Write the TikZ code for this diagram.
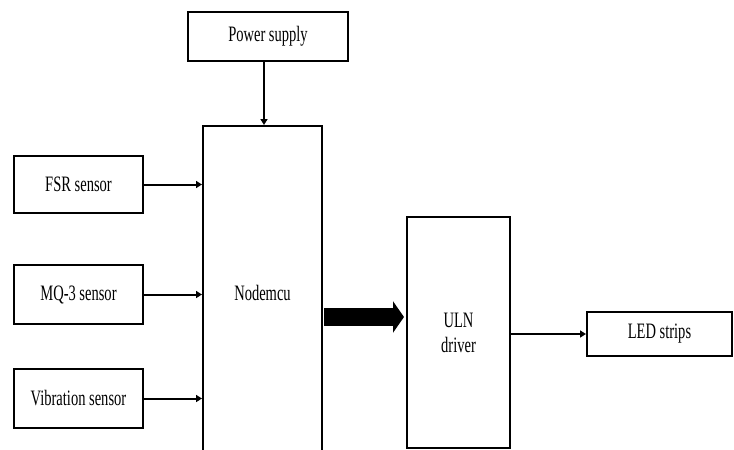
\documentclass[tikz,border=0pt]{standalone}
\usepackage{fontspec}
\setmainfont{Liberation Serif}[FakeStretch=0.66]
\usetikzlibrary{arrows.meta,calc}
\begin{document}
\begin{tikzpicture}[x=1pt,y=-1pt,
  blk/.style={draw=black,line width=2pt,inner sep=0pt,align=center,
    font=\fontsize{22}{25}\selectfont},
  conn/.style={line width=2pt,-{Triangle[length=6pt,width=7pt]}},
  bigarrow/.style={line width=18pt,-{Triangle[length=11pt,width=31pt]}}]
\useasboundingbox (0,0) rectangle (734,450);
\clip (0,0) rectangle (734,450);
\fill[white] (0,0) rectangle (734,450);
\node[blk,minimum width=160pt,minimum height=49pt] (power) at (268,36.5) {Power supply};
\node[blk,minimum width=119pt,minimum height=334pt] (nodemcu) at (262.5,293) {Nodemcu};
\node[blk,minimum width=129pt,minimum height=57pt] (fsr) at (78.5,184.5) {FSR sensor};
\node[blk,minimum width=129pt,minimum height=59pt] (mq) at (78.5,294.5) {MQ-3 sensor};
\node[blk,minimum width=129pt,minimum height=59pt] (vib) at (78.5,398.5) {Vibration sensor};
\node[blk,minimum width=103pt,minimum height=231pt] (uln) at (458.5,332.5) {ULN\\driver};
\node[blk,minimum width=145pt,minimum height=44pt] (led) at (659.5,334) {LED strips};
\coordinate (ps) at ([xshift=-4pt]power.south);
\draw[conn] (ps) -- (ps |- nodemcu.north);
\draw[conn] (fsr.east) -- (fsr.east -| nodemcu.west);
\draw[conn] (mq.east) -- (mq.east -| nodemcu.west);
\draw[conn] (vib.east) -- (vib.east -| nodemcu.west);
\coordinate (bs) at ([yshift=-24pt]nodemcu.east);
\draw[bigarrow,shorten >=2pt] ([xshift=1pt]bs) -- (bs -| uln.west);
\coordinate (us) at ([yshift=-1.5pt]uln.east);
\draw[conn] (us) -- (us -| led.west);
\end{tikzpicture}
\end{document}
